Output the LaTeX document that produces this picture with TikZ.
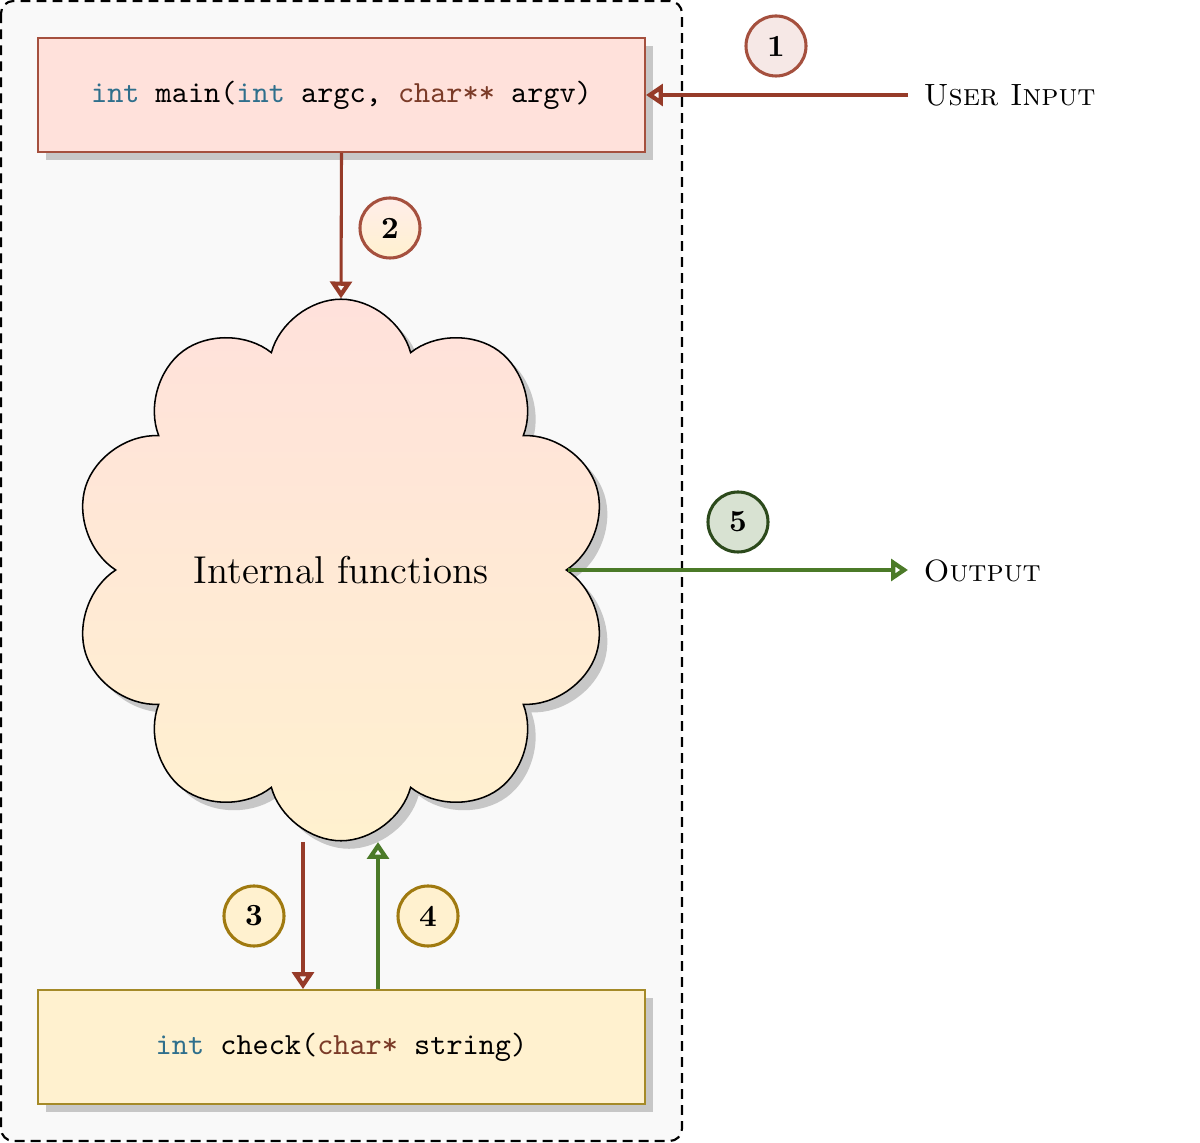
\documentclass[tikz,border=0pt]{standalone}
\usetikzlibrary{shapes.symbols,shadows,arrows.meta,calc}
\definecolor{redline}{HTML}{963B29}
\definecolor{redborder}{HTML}{A5503E}
\definecolor{topfill}{HTML}{FFE1DB}
\definecolor{botfill}{HTML}{FFF1CF}
\definecolor{botborder}{HTML}{A58A28}
\definecolor{goldborder}{HTML}{A07A10}
\definecolor{greenline}{HTML}{4B7A28}
\definecolor{c5fill}{HTML}{D8E2D2}
\definecolor{c5border}{HTML}{2C4A1C}
\definecolor{c1fill}{HTML}{F6E8E6}
\definecolor{intcol}{HTML}{2F6F8C}
\definecolor{charcol}{HTML}{7B3B28}
\definecolor{framefill}{HTML}{F9F9F9}
\tikzset{
  myshadow/.style={drop shadow={shadow xshift=2.6pt,shadow yshift=-2.6pt,fill=black!22,opacity=1}},
  codebox/.style={rectangle,minimum width=197.3pt,minimum height=37.05pt,inner sep=0pt,line width=0.6pt,font=\ttfamily,myshadow},
  numcirc/.style={circle,minimum size=19.5pt,inner sep=0pt,line width=1pt,font=\bfseries},
  flowarrow/.style={line width=1pt,-{Triangle[open,length=5.5pt,width=7pt,line width=1.4pt]}},
  sidetext/.style={anchor=west,inner sep=0pt,font=\scshape}
}
\begin{document}
\begin{tikzpicture}[x=0.325pt,y=-0.325pt]
\useasboundingbox (0,0) rectangle (1200,1143);
\path[fill=framefill,draw=black,line width=0.7pt,dash pattern=on 3.2pt off 2pt,rounded corners=4pt] (1,1) rectangle (682,1141);
\node[codebox,draw=redborder,fill=topfill] (main) at (341.5,95) {\textcolor{intcol}{int} main(\textcolor{intcol}{int} argc, \textcolor{charcol}{char**} argv)};
\node[codebox,draw=botborder,fill=botfill] (check) at (341.5,1047) {\textcolor{intcol}{int} check(\textcolor{charcol}{char*} string)};
\node[cloud,cloud puffs=10,cloud puff arc=150,draw=black,line width=0.5pt,minimum width=174.5pt,minimum height=176pt,inner sep=0pt,top color=topfill,bottom color=botfill,myshadow,font=\fontsize{12.6}{15}\selectfont] (cloud) at (341,570) {Internal functions};
\node[sidetext] (ui) at (923,95) {User Input};
\node[sidetext] (out) at (923,571) {Output};
\coordinate (uistart) at ($(ui.west |- main.east)+(-15,0)$);
\coordinate (outend) at ($(out.west |- cloud.east)+(-15,0)$);
\coordinate (c3) at (303,842);
\coordinate (c4) at (378,842);
\draw[flowarrow,redline] (uistart) -- (main.east);
\draw[flowarrow,redline] (main.south) -- (cloud.north);
\draw[flowarrow,greenline] (cloud.east) -- (outend);
\draw[flowarrow,redline] (c3) -- (c3 |- check.north);
\draw[flowarrow,greenline] (c4 |- check.north) -- (c4);
\node[numcirc,draw=redborder,fill=c1fill] (n1) at (776,46) {1};
\node[numcirc,draw=redborder,top color=topfill!60!white,bottom color=botfill] (n2) at (390,228) {2};
\node[numcirc,draw=goldborder,fill=botfill] (n3) at (254,916) {3};
\node[numcirc,draw=goldborder,fill=botfill] (n4) at (428,916) {4};
\node[numcirc,draw=c5border,fill=c5fill] (n5) at (738,522) {5};
\end{tikzpicture}
\end{document}
